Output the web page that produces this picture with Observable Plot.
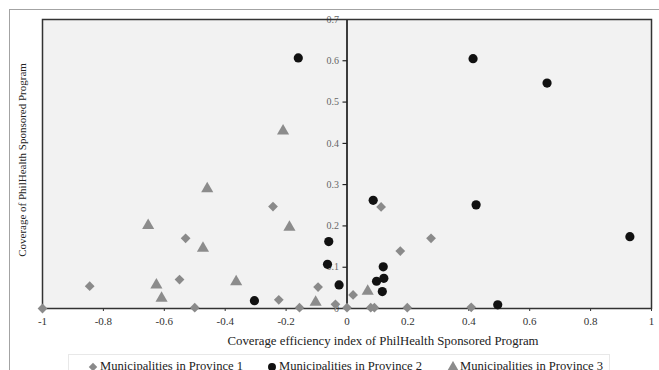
<!DOCTYPE html>
<html>
<head>
<meta charset="utf-8">
<script src="https://cdn.jsdelivr.net/npm/d3@7"></script>
<script src="https://cdn.jsdelivr.net/npm/@observablehq/plot@0.6"></script>
<style>
  body { margin: 0; background: #fff; }
  #wrap { position: relative; width: 659px; height: 370px; overflow: hidden; font-family: "Liberation Serif", serif; }
  #outer { position: absolute; left: 9px; top: 9px; width: 700px; height: 420px; border: 1px solid #a3a3a3; }
  #chart { position: absolute; left: 0; top: 0; }
  #legend { position: absolute; left: 68px; top: 354px; width: 542px; height: 30px; border: 1px solid #e8e8e8; box-sizing: border-box; }
  .item { position: absolute; top: 4px; display: flex; align-items: center; font-size: 12.6px; color: #222; white-space: nowrap; }
  .item svg { margin-right: 1px; }
</style>
</head>
<body>
<div id="wrap">
  <div id="outer"></div>
  <div id="chart"></div>
  <div id="legend"></div>
</div>
<script>
// ---- data ----
const seriesNames = ["Municipalities in Province 1", "Municipalities in Province 2", "Municipalities in Province 3"];
const province1 = [
  [-1.0, 0.0], [-0.845, 0.054], [-0.55, 0.070], [-0.53, 0.170], [-0.50, 0.002],
  [-0.243, 0.247], [-0.224, 0.021], [-0.156, 0.002], [-0.095, 0.052], [-0.038, 0.010],
  [0.0, 0.002], [0.02, 0.033], [0.078, 0.002], [0.09, 0.002], [0.112, 0.246],
  [0.175, 0.139], [0.198, 0.002], [0.276, 0.170], [0.408, 0.003]
];
const province2 = [
  [-0.16, 0.607], [0.414, 0.605], [0.657, 0.546], [0.424, 0.251], [0.929, 0.174],
  [0.495, 0.009], [0.086, 0.262], [0.119, 0.101], [0.097, 0.066], [0.121, 0.073],
  [0.116, 0.041], [-0.026, 0.057], [-0.060, 0.162], [-0.064, 0.107], [-0.304, 0.019]
];
const province3 = [
  [-0.21, 0.430], [-0.459, 0.290], [-0.189, 0.197], [-0.473, 0.146], [-0.364, 0.065],
  [-0.103, 0.015], [-0.653, 0.201], [-0.626, 0.057], [-0.609, 0.025], [0.068, 0.042]
];
const xTicks = [-1, -0.8, -0.6, -0.4, -0.2, 0, 0.2, 0.4, 0.6, 0.8, 1];
const yTicks = [0, 0.1, 0.2, 0.3, 0.4, 0.5, 0.6, 0.7];
const xTitle = "Coverage efficiency index of PhilHealth Sponsored Program";
const yTitle = "Coverage of PhilHealth Sponsored Program";

// ---- styles ----
const symbols = ["diamond2", "circle", "triangle"];
const colors = ["#8a8a8a", "#111111", "#8c8c8c"];
const rs = [4.4, 4.6, 4.5];

const table = [province1, province2, province3].flatMap((pts, i) =>
  pts.map(([x, y]) => ({x, y, s: i})));

const W = 659, H = 352, ML = 42, MR = 8, MT = 19, MB = 44;
const zeroOffset = (W - ML - MR) / 2; // y-axis crosses at x = 0 (middle of [-1,1])

const marks = [
  Plot.frame({fill: "#f2f2f2", stroke: "none"}),
  Plot.axisX(xTicks, {tickSize: 3, tickPadding: 6, tickFormat: d => String(d), fontSize: 11, fill: "#333", stroke: "#333", label: null}),
  Plot.ruleX([0], {stroke: "#000", strokeWidth: 1.5}),
  Plot.axisY(yTicks, {anchor: "left", dx: zeroOffset, tickSize: 4, tickPadding: 4, tickFormat: d => String(d), fontSize: 10, fill: "#666", stroke: "#000", label: null}),
  Plot.frame({stroke: "#333", strokeWidth: 1.5}),
  Plot.text([xTitle], {text: d => d, frameAnchor: "bottom", textAnchor: "middle", dx: 36, dy: 36, fontSize: 12.8, fill: "#222"}),
  Plot.text([yTitle], {text: d => d, frameAnchor: "left", textAnchor: "middle", rotate: -90, dx: -20, dy: -4, fontSize: 11, fill: "#222"})
];
for (let i = 0; i < 3; i++) {
  marks.push(Plot.dot(table.filter(d => d.s === i), {x: "x", y: "y", symbol: () => symbols[i], fill: colors[i], r: rs[i], stroke: "none"}));
}

const chart = Plot.plot({
  width: W, height: H,
  marginLeft: ML, marginRight: MR, marginTop: MT, marginBottom: MB,
  style: {fontFamily: "Liberation Serif", background: "transparent"},
  x: {domain: [-1, 1], axis: null},
  y: {domain: [0, 0.7], axis: null},
  symbol: {type: "identity"},
  marks
});
document.getElementById("chart").append(chart);

// ---- legend ----
const legend = document.getElementById("legend");
const d3syms = {diamond2: d3.symbolDiamond2, circle: d3.symbolCircle, triangle: d3.symbolTriangle};
const lefts = [18, 197, 378];
seriesNames.forEach((name, i) => {
  const item = document.createElement("div");
  item.className = "item";
  item.style.left = lefts[i] + "px";
  const size = Math.PI * rs[i] * rs[i] * 0.75;
  const path = d3.symbol(d3syms[symbols[i]], size)();
  item.innerHTML = `<svg width="12" height="12" viewBox="-6 -6 12 12"><path d="${path}" fill="${colors[i]}"/></svg><span>${name}</span>`;
  legend.append(item);
});
</script>
</body>
</html>
